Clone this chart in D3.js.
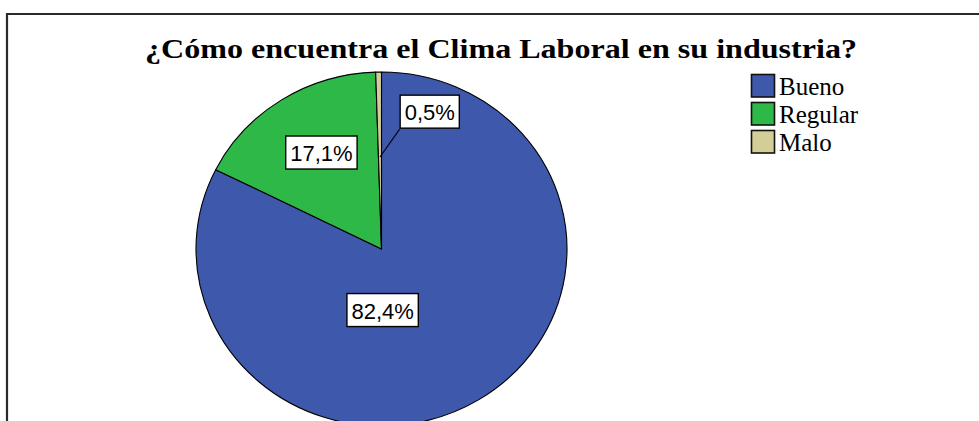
<!DOCTYPE html>
<html>
<head>
<meta charset="utf-8">
<script src="https://cdn.jsdelivr.net/npm/d3@7"></script>
<style>
  html, body { margin: 0; padding: 0; background: #ffffff; }
  svg { display: block; }
</style>
</head>
<body>
<svg id="chart" width="979" height="421"></svg>
<script>
// ---- data ----
const title = "¿Cómo encuentra el Clima Laboral en su industria?";
const categories = ["Bueno", "Regular", "Malo"];
const values = [82.4, 17.1, 0.5];
const valueLabels = ["82,4%", "17,1%", "0,5%"];
const colors = ["#3E58AC", "#2EB848", "#D3CE97"];

// ---- layout ----
const W = 979, H = 421;
const cx = 381.5, cy = 249, R = 177, stretchX = 1.048;
// label anchor offsets as fractions of the radius (layout, not data)
const labelOffsets = [[0.006, 0.345], [-0.324, -0.545], [0.26, -0.776]];

const svg = d3.select("#chart");
svg.append("rect").attr("width", W).attr("height", H).attr("fill", "#fff");

// frame (top + left visible)
svg.append("path")
  .attr("d", `M7,${H + 2} V14 H${W + 2}`)
  .attr("fill", "none").attr("stroke", "#2a2a2a").attr("stroke-width", 2.2);

// title
svg.append("text")
  .attr("x", 501).attr("y", 57.5)
  .attr("text-anchor", "middle")
  .attr("font-family", "'Liberation Serif', 'Times New Roman', serif")
  .attr("font-weight", "bold")
  .attr("font-size", 26.5)
  .attr("textLength", 712)
  .attr("lengthAdjust", "spacingAndGlyphs")
  .attr("fill", "#000")
  .text(title);

// pie
const pie = d3.pie().sort(null).value(d => d)(values);
const arc = d3.arc().innerRadius(0).outerRadius(R);
const g = svg.append("g").attr("transform", `translate(${cx},${cy}) scale(${stretchX},1)`);
g.selectAll("path.slice").data(pie).enter().append("path")
  .attr("class", "slice")
  .attr("d", arc)
  .attr("fill", (d, i) => colors[i])
  .attr("stroke", "#000")
  .attr("stroke-width", 1.1)
  .attr("vector-effect", "non-scaling-stroke")
  .attr("stroke-linejoin", "round");

// labels
const labelFont = "'Liberation Sans', Arial, sans-serif";
const labelG = svg.append("g");
pie.forEach((d, i) => {
  const lx = cx + labelOffsets[i][0] * R * stretchX;
  const ly = cy + labelOffsets[i][1] * R;
  const t = labelG.append("text")
    .attr("x", lx).attr("y", ly + 8.5)
    .attr("text-anchor", "middle")
    .attr("font-family", labelFont)
    .attr("font-size", 22)
    .attr("fill", "#000")
    .text(valueLabels[i]);
  const tw = t.node().getComputedTextLength();
  const bw = tw + 9, bh = 33;
  labelG.insert("rect", "text")
    .attr("x", lx - bw / 2).attr("y", ly - bh / 2)
    .attr("width", bw).attr("height", bh)
    .attr("fill", "#fff").attr("stroke", "#000").attr("stroke-width", 1.4);
  // leader line for tiny slice
  if (i === 2) {
    const mid = (d.startAngle + d.endAngle) / 2;
    const pr = 0.52 * R;
    const px = cx + Math.sin(mid) * pr * stretchX;
    const py = cy - Math.cos(mid) * pr;
    labelG.append("line")
      .attr("x1", lx - bw / 2 - 0.5).attr("y1", ly + bh / 2 + 1)
      .attr("x2", px).attr("y2", py)
      .attr("stroke", "#000").attr("stroke-width", 1.1);
  }
});

// legend
const legend = svg.append("g");
categories.forEach((c, i) => {
  const y0 = 74 + i * 28;
  legend.append("rect")
    .attr("x", 751.5).attr("y", y0 + 0.5)
    .attr("width", 23).attr("height", 22.5)
    .attr("fill", colors[i]).attr("stroke", "#111").attr("stroke-width", 1.6);
  legend.append("text")
    .attr("x", 779).attr("y", y0 + 21)
    .attr("font-family", "'Liberation Serif', 'Times New Roman', serif")
    .attr("font-size", 25)
    .attr("fill", "#000")
    .text(c);
});
</script>
</body>
</html>
